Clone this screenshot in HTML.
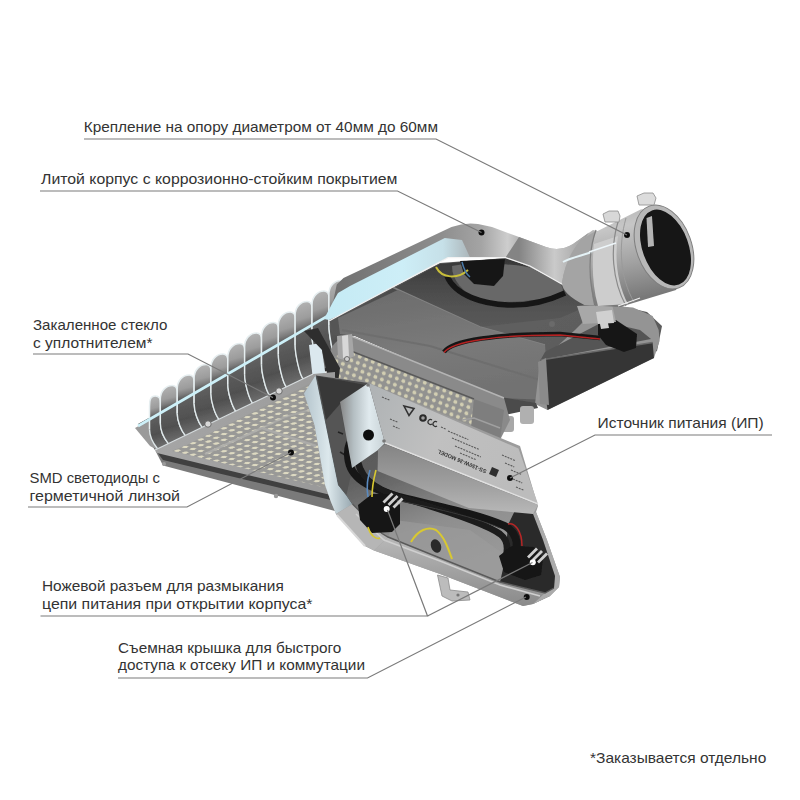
<!DOCTYPE html>
<html><head><meta charset="utf-8">
<style>
html,body{margin:0;padding:0;background:#fff;}
svg{display:block;}
text{font-family:"Liberation Sans",sans-serif;font-size:15px;fill:#333;}
</style></head><body>
<svg width="800" height="800" viewBox="0 0 800 800">
<rect width="800" height="800" fill="#fff"/>
<filter id="soft" x="-5%" y="-5%" width="110%" height="110%"><feGaussianBlur stdDeviation="0.45"/></filter>
<g filter="url(#soft)">
<defs>
<linearGradient id="finG" x1="0" y1="0" x2="0.1" y2="1">
 <stop offset="0" stop-color="#b6b6b6"/><stop offset="0.25" stop-color="#9c9c9c"/><stop offset="0.34" stop-color="#7c7c7c"/><stop offset="0.4" stop-color="#606060"/><stop offset="0.75" stop-color="#505050"/><stop offset="1" stop-color="#6c6c6c"/>
</linearGradient>
<linearGradient id="finLowG" x1="0" y1="0" x2="0.2" y2="1">
 <stop offset="0" stop-color="#7a7a7a"/><stop offset="1" stop-color="#444"/>
</linearGradient>
<linearGradient id="cyanBand" x1="320" y1="0" x2="470" y2="0" gradientUnits="userSpaceOnUse">
 <stop offset="0" stop-color="#c4eaf4"/><stop offset="0.55" stop-color="#cdeef7"/><stop offset="0.82" stop-color="#c6e0e8"/><stop offset="1" stop-color="#acb6ba"/>
</linearGradient>
<linearGradient id="topFace" x1="336" y1="0" x2="600" y2="0" gradientUnits="userSpaceOnUse">
 <stop offset="0" stop-color="#707070"/><stop offset="0.4" stop-color="#8e8e8e"/><stop offset="0.55" stop-color="#a4a4a4"/><stop offset="0.65" stop-color="#cdcdcd"/><stop offset="0.72" stop-color="#a6a6a6"/><stop offset="1" stop-color="#b8b8b8"/>
</linearGradient>
<linearGradient id="interiorG" x1="0" y1="0" x2="1" y2="0.6">
 <stop offset="0" stop-color="#4c4c4c"/><stop offset="0.5" stop-color="#606060"/><stop offset="1" stop-color="#5a5a5a"/>
</linearGradient>
<linearGradient id="lowFaceG" x1="0" y1="0" x2="1" y2="0.5">
 <stop offset="0" stop-color="#5a5a5a"/><stop offset="1" stop-color="#505050"/>
</linearGradient>
<linearGradient id="pipeG" x1="0" y1="0" x2="0.25" y2="1">
 <stop offset="0" stop-color="#b0b0b0"/><stop offset="0.3" stop-color="#c6c6c6"/><stop offset="0.65" stop-color="#a2a2a2"/><stop offset="1" stop-color="#787878"/>
</linearGradient>
<linearGradient id="neckG" x1="519" y1="0" x2="590" y2="0" gradientUnits="userSpaceOnUse">
 <stop offset="0" stop-color="#848484"/><stop offset="0.5" stop-color="#cacaca"/><stop offset="0.75" stop-color="#b2b2b2"/><stop offset="1" stop-color="#9a9a9a"/>
</linearGradient>
<linearGradient id="coverFrame" x1="0" y1="0" x2="1" y2="0">
 <stop offset="0" stop-color="#b4c4cc"/><stop offset="0.5" stop-color="#dce8ec"/><stop offset="1" stop-color="#98a8b0"/>
</linearGradient>
<linearGradient id="coverBot" x1="0" y1="0" x2="0" y2="1">
 <stop offset="0" stop-color="#b8b8b8"/><stop offset="1" stop-color="#8a8a8a"/>
</linearGradient>
<linearGradient id="psuTop" x1="0" y1="0" x2="1" y2="0.3">
 <stop offset="0" stop-color="#aeb2b4"/><stop offset="0.5" stop-color="#c0c0c0"/><stop offset="1" stop-color="#bcbcbc"/>
</linearGradient>
<linearGradient id="psuFront" x1="0" y1="0" x2="0" y2="1">
 <stop offset="0" stop-color="#848484"/><stop offset="0.6" stop-color="#a0a0a0"/><stop offset="1" stop-color="#b8b8b8"/>
</linearGradient>
<linearGradient id="endPlate" x1="0" y1="0" x2="1" y2="0">
 <stop offset="0" stop-color="#868686"/><stop offset="0.3" stop-color="#b4bec2"/><stop offset="0.65" stop-color="#e0eaee"/><stop offset="1" stop-color="#c8d2d6"/>
</linearGradient>
<pattern id="leds" width="8.6" height="8" patternUnits="userSpaceOnUse" patternTransform="matrix(0.9015,-0.4327,0.9679,0.2517,0,0)">
 <rect width="8.6" height="8" fill="#999997"/>
 <circle cx="4.3" cy="4" r="2.3" fill="#dedac2"/>
</pattern>
<linearGradient id="plateG" x1="0" y1="0" x2="1" y2="0.3">
 <stop offset="0" stop-color="#a8a8a8"/><stop offset="1" stop-color="#9a9a9a"/>
</linearGradient>
<pattern id="leds2" width="7" height="6.5" patternUnits="userSpaceOnUse" patternTransform="matrix(0.9285,0.3714,-0.3,0.954,0,0)">
 <rect width="7" height="6.5" fill="#929290"/>
 <circle cx="3.5" cy="3.2" r="2" fill="#d2ceb2"/>
</pattern>
<linearGradient id="coverIn" x1="0" y1="0" x2="0.4" y2="1">
 <stop offset="0" stop-color="#4a4a4a"/><stop offset="0.45" stop-color="#5c5c5c"/><stop offset="0.75" stop-color="#8e8e8e"/><stop offset="1" stop-color="#9a9a9a"/>
</linearGradient>
<linearGradient id="upIntG" x1="0" y1="260" x2="0" y2="330" gradientUnits="userSpaceOnUse">
 <stop offset="0" stop-color="#383838"/><stop offset="0.5" stop-color="#4e4e4e"/><stop offset="1" stop-color="#5a5a5a"/>
</linearGradient>
<linearGradient id="lowWallG" x1="0" y1="0" x2="0.3" y2="1">
 <stop offset="0" stop-color="#6a6a6a"/><stop offset="0.6" stop-color="#7a7a7a"/><stop offset="1" stop-color="#727272"/>
</linearGradient>
</defs>
<g id="heatsink">
<polygon points="138.0,424.0 345.0,309.0 352.0,330.0 340.0,366.0 313.0,376.0 155.0,450.0" fill="#2e2e2e"/>
<polygon points="135.0,428.0 152.0,419.0 157.0,450.0 150.0,446.0" fill="#9a9a9a"/>
<path d="M149.5,429.3 L149.5,410.0 C149.5,401.0 149.5,396.0 155.5,396.0 C158.5,396.0 160.5,398.0 160.5,403.0 L160.5,422.9 C160.5,430.9 164.5,438.5 168.5,443.5 L157.5,448.8 C153.5,443.8 149.5,437.3 149.5,429.3 Z" fill="url(#finG)"/>
<path d="M149.5,429.3 L149.5,410.0 C149.5,401.0 149.5,396.0 155.5,396.0 C158.5,396.0 160.5,398.0 160.5,403.0 L160.5,422.9 C160.5,430.9 164.5,438.5 168.5,443.5" fill="none" stroke="#e6eef0" stroke-width="1.5"/>
<path d="M149.5,429.3 C149.5,437.3 153.5,443.8 157.5,448.8" fill="none" stroke="#dfe8ea" stroke-width="1.4"/>
<path d="M160.3,423.0 L160.3,399.5 C160.3,390.5 166.3,385.5 172.3,385.5 C175.3,385.5 177.3,387.5 177.3,392.5 L177.3,413.2 C177.3,421.2 181.3,430.4 185.3,435.4 L168.3,443.6 C164.3,438.6 160.3,431.0 160.3,423.0 Z" fill="url(#finG)"/>
<path d="M160.3,423.0 L160.3,399.5 C160.3,390.5 166.3,385.5 172.3,385.5 C175.3,385.5 177.3,387.5 177.3,392.5 L177.3,413.2 C177.3,421.2 181.3,430.4 185.3,435.4" fill="none" stroke="#e6eef0" stroke-width="1.5"/>
<path d="M160.3,423.0 C160.3,431.0 164.3,438.6 168.3,443.6" fill="none" stroke="#dfe8ea" stroke-width="1.4"/>
<path d="M177.2,413.3 L177.2,389.0 C177.2,380.0 183.2,375.0 189.2,375.0 C192.2,375.0 194.2,377.0 194.2,382.0 L194.2,403.4 C194.2,411.4 198.2,422.3 202.2,427.3 L185.2,435.5 C181.2,430.5 177.2,421.3 177.2,413.3 Z" fill="url(#finG)"/>
<path d="M177.2,413.3 L177.2,389.0 C177.2,380.0 183.2,375.0 189.2,375.0 C192.2,375.0 194.2,377.0 194.2,382.0 L194.2,403.4 C194.2,411.4 198.2,422.3 202.2,427.3" fill="none" stroke="#e6eef0" stroke-width="1.5"/>
<path d="M177.2,413.3 C177.2,421.3 181.2,430.5 185.2,435.5" fill="none" stroke="#dfe8ea" stroke-width="1.4"/>
<path d="M194.1,403.5 L194.1,378.5 C194.1,369.5 200.1,364.5 206.1,364.5 C209.1,364.5 211.1,366.5 211.1,371.5 L211.1,393.6 C211.1,401.6 215.1,414.3 219.1,419.3 L202.1,427.4 C198.1,422.4 194.1,411.5 194.1,403.5 Z" fill="url(#finG)"/>
<path d="M194.1,403.5 L194.1,378.5 C194.1,369.5 200.1,364.5 206.1,364.5 C209.1,364.5 211.1,366.5 211.1,371.5 L211.1,393.6 C211.1,401.6 215.1,414.3 219.1,419.3" fill="none" stroke="#e6eef0" stroke-width="1.5"/>
<path d="M194.1,403.5 C194.1,411.5 198.1,422.4 202.1,427.4" fill="none" stroke="#dfe8ea" stroke-width="1.4"/>
<path d="M210.9,393.7 L210.9,368.0 C210.9,359.0 216.9,354.0 222.9,354.0 C225.9,354.0 227.9,356.0 227.9,361.0 L227.9,383.9 C227.9,391.9 231.9,406.2 235.9,411.2 L218.9,419.3 C214.9,414.3 210.9,401.7 210.9,393.7 Z" fill="url(#finG)"/>
<path d="M210.9,393.7 L210.9,368.0 C210.9,359.0 216.9,354.0 222.9,354.0 C225.9,354.0 227.9,356.0 227.9,361.0 L227.9,383.9 C227.9,391.9 231.9,406.2 235.9,411.2" fill="none" stroke="#e6eef0" stroke-width="1.5"/>
<path d="M210.9,393.7 C210.9,401.7 214.9,414.3 218.9,419.3" fill="none" stroke="#dfe8ea" stroke-width="1.4"/>
<path d="M227.8,383.9 L227.8,357.5 C227.8,348.5 233.8,343.5 239.8,343.5 C242.8,343.5 244.8,345.5 244.8,350.5 L244.8,374.1 C244.8,382.1 248.8,398.1 252.8,403.1 L235.8,411.2 C231.8,406.2 227.8,391.9 227.8,383.9 Z" fill="url(#finG)"/>
<path d="M227.8,383.9 L227.8,357.5 C227.8,348.5 233.8,343.5 239.8,343.5 C242.8,343.5 244.8,345.5 244.8,350.5 L244.8,374.1 C244.8,382.1 248.8,398.1 252.8,403.1" fill="none" stroke="#e6eef0" stroke-width="1.5"/>
<path d="M227.8,383.9 C227.8,391.9 231.8,406.2 235.8,411.2" fill="none" stroke="#dfe8ea" stroke-width="1.4"/>
<path d="M244.6,374.2 L244.6,347.0 C244.6,338.0 250.6,333.0 256.6,333.0 C259.6,333.0 261.6,335.0 261.6,340.0 L261.6,364.3 C261.6,372.3 265.6,390.0 269.6,395.0 L252.6,403.2 C248.6,398.2 244.6,382.2 244.6,374.2 Z" fill="url(#finG)"/>
<path d="M244.6,374.2 L244.6,347.0 C244.6,338.0 250.6,333.0 256.6,333.0 C259.6,333.0 261.6,335.0 261.6,340.0 L261.6,364.3 C261.6,372.3 265.6,390.0 269.6,395.0" fill="none" stroke="#e6eef0" stroke-width="1.5"/>
<path d="M244.6,374.2 C244.6,382.2 248.6,398.2 252.6,403.2" fill="none" stroke="#dfe8ea" stroke-width="1.4"/>
<path d="M261.5,364.4 L261.5,336.5 C261.5,327.5 267.5,322.5 273.5,322.5 C276.5,322.5 278.5,324.5 278.5,329.5 L278.5,354.5 C278.5,362.5 282.5,381.9 286.5,386.9 L269.5,395.1 C265.5,390.1 261.5,372.4 261.5,364.4 Z" fill="url(#finG)"/>
<path d="M261.5,364.4 L261.5,336.5 C261.5,327.5 267.5,322.5 273.5,322.5 C276.5,322.5 278.5,324.5 278.5,329.5 L278.5,354.5 C278.5,362.5 282.5,381.9 286.5,386.9" fill="none" stroke="#e6eef0" stroke-width="1.5"/>
<path d="M261.5,364.4 C261.5,372.4 265.5,390.1 269.5,395.1" fill="none" stroke="#dfe8ea" stroke-width="1.4"/>
<path d="M278.3,354.6 L278.3,326.0 C278.3,317.0 284.3,312.0 290.3,312.0 C293.3,312.0 295.3,314.0 295.3,319.0 L295.3,344.8 C295.3,352.8 299.3,373.8 303.3,378.8 L286.3,387.0 C282.3,382.0 278.3,362.6 278.3,354.6 Z" fill="url(#finG)"/>
<path d="M278.3,354.6 L278.3,326.0 C278.3,317.0 284.3,312.0 290.3,312.0 C293.3,312.0 295.3,314.0 295.3,319.0 L295.3,344.8 C295.3,352.8 299.3,373.8 303.3,378.8" fill="none" stroke="#e6eef0" stroke-width="1.5"/>
<path d="M278.3,354.6 C278.3,362.6 282.3,382.0 286.3,387.0" fill="none" stroke="#dfe8ea" stroke-width="1.4"/>
<path d="M295.1,344.9 L295.1,315.5 C295.1,306.5 301.1,301.5 307.1,301.5 C310.1,301.5 312.1,303.5 312.1,308.5 L312.1,335.0 C312.1,343.0 316.1,365.7 320.1,370.7 L303.1,378.9 C299.1,373.9 295.1,352.9 295.1,344.9 Z" fill="url(#finG)"/>
<path d="M295.1,344.9 L295.1,315.5 C295.1,306.5 301.1,301.5 307.1,301.5 C310.1,301.5 312.1,303.5 312.1,308.5 L312.1,335.0 C312.1,343.0 316.1,365.7 320.1,370.7" fill="none" stroke="#e6eef0" stroke-width="1.5"/>
<path d="M295.1,344.9 C295.1,352.9 299.1,373.9 303.1,378.9" fill="none" stroke="#dfe8ea" stroke-width="1.4"/>
<path d="M312.0,335.1 L312.0,305.0 C312.0,296.0 318.0,291.0 324.0,291.0 C327.0,291.0 329.0,293.0 329.0,298.0 L329.0,325.2 C329.0,333.2 333.0,357.6 337.0,362.6 L320.0,370.8 C316.0,365.8 312.0,343.1 312.0,335.1 Z" fill="url(#finG)"/>
<path d="M312.0,335.1 L312.0,305.0 C312.0,296.0 318.0,291.0 324.0,291.0 C327.0,291.0 329.0,293.0 329.0,298.0 L329.0,325.2 C329.0,333.2 333.0,357.6 337.0,362.6" fill="none" stroke="#e6eef0" stroke-width="1.5"/>
<path d="M312.0,335.1 C312.0,343.1 316.0,365.8 320.0,370.8" fill="none" stroke="#dfe8ea" stroke-width="1.4"/>
<path d="M328.9,325.3 L328.9,294.5 C328.9,285.5 334.9,280.5 340.9,280.5 C343.9,280.5 345.9,282.5 345.9,287.5 L345.9,315.4 C345.9,323.4 349.9,349.6 353.9,354.6 L336.9,362.7 C332.9,357.7 328.9,333.3 328.9,325.3 Z" fill="url(#finG)"/>
<path d="M328.9,325.3 L328.9,294.5 C328.9,285.5 334.9,280.5 340.9,280.5 C343.9,280.5 345.9,282.5 345.9,287.5 L345.9,315.4 C345.9,323.4 349.9,349.6 353.9,354.6" fill="none" stroke="#e6eef0" stroke-width="1.5"/>
<path d="M328.9,325.3 C328.9,333.3 332.9,357.7 336.9,362.7" fill="none" stroke="#dfe8ea" stroke-width="1.4"/>
<polyline points="138.0,426.0 345.0,305.9" fill="none" stroke="#cdf0f8" stroke-width="2.8"/>
</g>
<g id="housing">
<polygon points="329.0,320.0 440.0,263.0 506.0,258.0 559.0,277.0 575.0,292.0 603.0,302.0 647.0,312.0 662.0,326.0 657.0,351.0 549.0,400.0 535.0,404.0 500.0,398.0 355.0,336.0 335.0,335.0" fill="url(#interiorG)"/>
<polygon points="341.0,316.0 440.0,264.0 506.0,258.0 559.0,277.0 575.0,295.0 590.0,305.0 560.0,318.0 480.0,327.0 398.0,290.0 345.0,314.0" fill="url(#upIntG)"/>
<polyline points="390.0,286.0 480.0,327.0 545.0,345.0" fill="none" stroke="#828282" stroke-width="1.6"/>
<polygon points="338.0,318.0 398.0,290.0 480.0,327.0 545.0,345.0 549.0,400.0 500.0,398.0 355.0,336.0 340.0,334.0" fill="url(#lowWallG)"/>
<polyline points="342.0,330.0 430.0,346.0 540.0,380.0" fill="none" stroke="#6e6e6e" stroke-width="2"/>
<path d="M452,266 C470,262 520,262 545,272 C560,280 565,288 562,293 C540,302 500,304 480,300 C462,292 452,280 452,266 Z" fill="#686868"/>
<path d="M447,276 C455,296 484,304 508,305 C532,306 550,300 565,293" fill="none" stroke="#171717" stroke-width="5.5"/>
<polygon points="460.0,261.0 505.0,259.0 503.0,276.0 494.0,286.0 474.0,284.0 464.0,274.0" fill="#191919"/>
<path d="M436,267 C442,279 458,279 468,270" fill="none" stroke="#c8be3a" stroke-width="2"/>
<path d="M462,262 C464,270 466,274 470,277" fill="none" stroke="#4a7aa8" stroke-width="1.5"/>
<polygon points="600.0,305.0 633.0,307.5 652.6,316.0 658.7,330.0 659.6,341.0 654.0,358.0 547.5,410.0 535.0,404.0 540.0,362.0 575.0,330.0" fill="#949494"/>
<polygon points="545.0,352.0 603.5,321.5 640.0,330.0 651.0,339.0 540.5,360.0" fill="#555"/>
<polygon points="540.5,360.0 652.6,342.5 654.0,358.0 547.5,410.0" fill="#363636"/>
<polyline points="540.5,360.0 652.6,342.5" fill="none" stroke="#6a6a6a" stroke-width="1.5"/>
<polygon points="538.0,362.0 546.0,358.0 549.0,405.0 540.0,404.0" fill="#8a8a8a"/>
<path d="M444,352 C452,340 498,334 560,334 L600,338" fill="none" stroke="#181818" stroke-width="4.5"/>
<path d="M444,352.5 C452,341 498,335 560,335 L600,339" fill="none" stroke="#b42222" stroke-width="1.4"/>
<polygon points="598.0,322.0 616.0,320.0 637.0,334.0 636.0,348.0 624.0,352.0 606.0,345.0 598.0,335.0" fill="#161616"/>
<polygon points="599.0,319.0 607.0,318.0 609.0,328.0 601.0,329.0" fill="#cfcfcf"/>
<polygon points="495.0,396.0 536.0,403.0 538.0,408.0 499.5,416.0 488.0,412.0" fill="#4c4c4c"/>
<rect x="501" y="416" width="13" height="16" rx="3" fill="#a8a8a8"/>
<rect x="520" y="406" width="14" height="18" rx="3" fill="#b0b0b0"/>
<circle cx="552" cy="324" r="3" fill="#6a6a6a"/>
<path d="M336.75,284.4 L343.5,278 L451.5,227 Q465,222 478,224 L492,227 L519,237 L546,247 Q560,252 573,244 L593,230 L600,232 L590,270 L574,292 L563.5,285 C550,277 530,266 505.5,257.4 L448,257.4 L340,315 L329,321 Z" fill="url(#topFace)"/>
<path d="M519,237 L546,247 Q560,252 573,244 L589,232.5 L580,246 L563.5,285 C550,277 530,266 505.5,257.4 Z" fill="url(#neckG)"/>
<polygon points="324.0,319.0 334.0,300.0 338.0,293.0 350.0,286.0 444.8,238.0 462.0,240.0 470.0,257.4 448.0,257.4 340.0,315.0 329.0,320.0" fill="url(#cyanBand)"/>
<polyline points="329.0,321.0 340.0,315.0 448.0,257.6 505.5,257.6 530.0,266.0 563.5,285.0" fill="none" stroke="#f2f2f2" stroke-width="1.3"/>
</g>
<g id="pipe">
<polygon points="577.0,306.0 612.0,304.0 616.0,322.0 583.0,324.0" fill="#a8a8a8"/>
<polygon points="596.0,312.0 612.0,310.0 614.0,323.0 598.0,324.0" fill="#d0d0d0"/>
<path d="M562,283 C564,268 570,252 580.6,239.4 L640.6,209.4 L662,206 L690,262 L676,290 L620,307 L584.4,305 Z" fill="url(#pipeG)"/>
<path d="M580.6,239.4 L596,231 C590,250 588,280 594,305 L584.4,305 C570,298 562,290 562,283 C564,268 570,252 580.6,239.4 Z" fill="#a4a4a4"/>
<path d="M563,262 C570,258 580,256 592,252" fill="none" stroke="#e4f2f6" stroke-width="2"/>
<path d="M594,244 L618,236 C614,260 618,285 628,304 L598,306 C592,285 592,262 594,244 Z" fill="#cdcdcd"/>
<path d="M596,230 C588,252 588,282 596,306" fill="none" stroke="#7e7e7e" stroke-width="1.2"/>
<path d="M618,222 C610,248 612,280 626,306" fill="none" stroke="#8a8a8a" stroke-width="1.2"/>
<path d="M626,218 C618,246 620,278 634,302" fill="none" stroke="#9a9a9a" stroke-width="1"/>
<line x1="589" y1="252" x2="616" y2="243" stroke="#eef6fa" stroke-width="1.5"/>
<line x1="618" y1="306" x2="640" y2="298" stroke="#f0f0f0" stroke-width="1.2"/>
<ellipse cx="664" cy="247" rx="27.5" ry="43.5" transform="rotate(-20 664 247)" fill="#b8b8b8" stroke="#7e7e7e" stroke-width="1"/>
<ellipse cx="665.5" cy="247.5" rx="23" ry="39.5" transform="rotate(-20 665.5 247.5)" fill="#141414"/>
<polygon points="646.5,218.0 652.0,216.0 654.0,246.0 648.0,247.0" fill="#b4b4b4"/>
<polygon points="603.0,214.0 609.0,211.0 618.0,211.0 620.0,216.0 619.0,222.0 605.0,222.0" fill="#d8d8d8" stroke="#8c8c8c" stroke-width="0.8"/>
<polygon points="637.0,196.0 644.0,193.0 653.0,193.0 656.0,198.0 654.0,205.0 639.0,205.0" fill="#dcdcdc" stroke="#8c8c8c" stroke-width="0.8"/>
</g>
<g id="midled">
<path d="M330,352 Q334,338 351,336 L504,398 L510,420 L500,440 L470,445 L330,400 Z" fill="#8a8a8a"/>
<polyline points="340.0,337.0 351.0,336.0 504.0,398.0" fill="none" stroke="#b4b4b4" stroke-width="1.5"/>
<polygon points="333.0,357.0 351.0,351.0 474.0,399.0 470.0,440.0 378.0,405.0 333.0,395.0" fill="url(#leds2)"/>
<polyline points="351.0,351.0 474.0,399.0" fill="none" stroke="#5a5a5a" stroke-width="1.5"/>
<polygon points="474.0,399.0 504.0,410.0 500.0,440.0 470.0,440.0" fill="#7e7e7e"/>
<polyline points="462.0,420.0 474.0,418.0 500.0,428.0" fill="none" stroke="#a0a0a0" stroke-width="1.5"/>
<path d="M337,336 L352,334 L354,356 Q346,362 338,358 Z" fill="#a6a6a6"/>
<polygon points="342.0,336.0 348.0,335.0 349.0,357.0 343.0,358.0" fill="#d8d8d8"/>
<circle cx="347" cy="359" r="2.5" fill="#cfcfcf" stroke="#555" stroke-width="0.8"/>
<polygon points="309.0,345.0 321.0,343.0 326.0,378.0 313.0,380.0" fill="#dbe8ee"/>
<polygon points="304.0,331.0 318.0,328.0 340.0,368.0 338.0,383.0 329.0,383.0 322.0,350.0" fill="#2e2e2e"/>
</g>
<g id="leftled">
<polygon points="155.0,450.0 335.0,493.0 335.0,511.0 163.0,465.5" fill="#7a7a7a"/>
<polygon points="157.0,452.0 335.0,494.0 335.0,501.0 163.0,460.0" fill="#404040"/>
<polygon points="155.0,450.0 313.0,374.0 335.0,372.0 335.0,496.0 157.0,453.0" fill="url(#plateG)"/>
<polyline points="155.0,450.0 313.0,374.0" fill="none" stroke="#d6dcde" stroke-width="1.2"/>
<polygon points="187.7,444.5 309.0,384.0 335.0,378.0 335.0,490.0 172.0,451.0" fill="url(#leds)"/>
<polyline points="205.0,454.0 262.0,428.0 316.0,446.0" fill="none" stroke="#acacaa" stroke-width="2.4" opacity="0.9"/>
<polyline points="262.0,428.0 285.0,417.0 310.0,410.0" fill="none" stroke="#acacaa" stroke-width="2" opacity="0.7"/>
<circle cx="208" cy="424" r="3.2" fill="#d8d8d8" stroke="#555" stroke-width="0.8"/>
<circle cx="279" cy="391" r="3.2" fill="#d8d8d8" stroke="#555" stroke-width="0.8"/>
<circle cx="164" cy="464" r="2" fill="#9a9a9a"/>
<circle cx="276" cy="496" r="2.2" fill="#9a9a9a"/>
</g>
<g id="cover">
<polygon points="316.0,374.8 304.0,393.5 314.5,425.0 325.0,485.0 331.0,502.0 336.0,514.0 364.0,545.5 374.0,550.6 440.0,574.0 523.0,606.0 533.0,604.0 550.0,596.0 559.0,587.0 560.0,577.0 547.0,540.0 536.0,512.0 538.0,506.0 520.0,446.0 368.5,383.0" fill="#9c9c9c"/>
<polygon points="316.0,374.8 304.0,393.5 314.5,425.0 325.0,485.0 331.0,502.0 336.0,514.0 352.5,504.0 346.4,495.0 338.5,485.0 316.0,375.5" fill="url(#coverFrame)"/>
<polyline points="316.0,375.5 338.5,485.0 346.4,495.0 352.5,504.0" fill="none" stroke="#5a6468" stroke-width="1"/>
<polygon points="336.0,514.0 364.0,545.5 374.0,550.6 388.0,537.0 382.0,533.5 352.5,504.0" fill="#b6b6b6"/>
<polyline points="337.0,515.0 365.0,546.0" fill="none" stroke="#d8d8d8" stroke-width="2"/>
<polygon points="374.0,550.6 440.0,574.0 523.0,606.0 533.0,604.0 550.0,596.0 545.0,593.0 500.0,582.0 440.0,558.0 388.0,537.0" fill="url(#coverBot)"/>
<polygon points="533.0,604.0 550.0,596.0 559.0,587.0 560.0,577.0 547.0,540.0 536.0,512.0 533.0,514.0 543.0,540.0 555.0,576.0 554.0,588.0 545.0,593.0" fill="#ababab"/>
<polygon points="316.0,375.5 338.5,485.0 346.4,495.0 352.5,504.0 382.0,533.5 388.0,537.0 440.0,558.0 500.0,582.0 545.0,593.0 554.0,588.0 555.0,576.0 543.0,540.0 533.0,514.0 520.0,480.0 368.5,383.0" fill="url(#coverIn)"/>
<polygon points="317.0,377.0 366.0,385.0 340.0,404.0 352.0,470.0 346.4,495.0 338.5,485.0" fill="#545454"/>
<polygon points="317.0,376.0 366.0,385.0 340.0,404.0 326.0,420.0" fill="#393939"/>
<line x1="338" y1="432" x2="343" y2="434" stroke="#222" stroke-width="1.5"/>
<line x1="340" y1="452" x2="345" y2="455" stroke="#222" stroke-width="1.5"/>
<polygon points="395.0,520.0 470.0,530.0 505.0,555.0 500.0,582.0 440.0,558.0 388.0,537.0" fill="#9c9c9c" opacity="0.6"/>
<polygon points="520.0,500.0 533.0,514.0 543.0,540.0 555.0,576.0 554.0,588.0 545.0,593.0 500.0,582.0 505.0,560.0 508.0,525.0" fill="#2a2a2a"/>
<path d="M368,435 C356,432 346,440 348,458 C350,478 368,488 400,497 C440,507 478,514 505,526 C515,532 518,540 516,550" fill="none" stroke="#161616" stroke-width="7.5"/>
<path d="M358,462 C362,482 380,492 410,500 C450,512 486,524 500,534 C508,540 508,548 506,556" fill="none" stroke="#1a1a1a" stroke-width="6.5"/>
<path d="M380,497 C420,505 470,515 500,528" fill="none" stroke="#3a3a3a" stroke-width="1"/>
<path d="M508,524 C514,522 522,530 522,546" fill="none" stroke="#b82828" stroke-width="1.5"/>
<polyline points="352.5,504.0 382.0,533.5 388.0,537.0 440.0,558.0 500.0,582.0 545.0,593.0 554.0,588.0" fill="none" stroke="#5a5a5a" stroke-width="1.4"/>
<polyline points="356.0,514.0 384.0,540.0 440.0,561.0 500.0,585.0 540.0,596.0" fill="none" stroke="#cfcfcf" stroke-width="1.6"/>
<polygon points="340.0,402.0 368.5,383.0 385.0,443.0 378.0,450.0 352.0,468.0" fill="url(#endPlate)"/>
<polygon points="368.5,383.0 518.5,448.5 538.0,504.0 385.0,443.0" fill="url(#psuTop)"/>
<polyline points="385.0,443.0 538.0,504.0" fill="none" stroke="#e0e0e0" stroke-width="1.5"/>
<polygon points="385.0,444.0 538.0,505.0 533.0,514.0 468.8,508.0 377.6,471.0 378.0,450.0" fill="url(#psuFront)"/>
<g>
<polygon points="404,406 414,408.5 409,415.5" fill="none" stroke="#333" stroke-width="1.6"/>
<circle cx="423" cy="418" r="3.8" fill="#2a2a2a"/><circle cx="423" cy="418" r="1.8" fill="#a0a0a0"/>
<path d="M432,420 a2.5,2.5 0 1,0 0,4 M437,422 a2.5,2.5 0 1,0 0,4" fill="none" stroke="#333" stroke-width="1.2"/>
<line x1="382.0" y1="397.0" x2="389.4" y2="400.1" stroke="#5a5a5a" stroke-width="1.1" stroke-dasharray="2 1"/>
<line x1="390.0" y1="419.0" x2="398.3" y2="422.5" stroke="#5a5a5a" stroke-width="1.1" stroke-dasharray="2 1"/>
<line x1="393.0" y1="426.0" x2="399.4" y2="428.7" stroke="#5a5a5a" stroke-width="1.1" stroke-dasharray="2 1"/>
<line x1="441.0" y1="427.0" x2="446.5" y2="429.3" stroke="#5a5a5a" stroke-width="1.1" stroke-dasharray="2 1"/>
<line x1="448.0" y1="431.0" x2="468.3" y2="439.6" stroke="#5a5a5a" stroke-width="1.1" stroke-dasharray="2 1"/>
<line x1="452.0" y1="438.0" x2="479.6" y2="449.7" stroke="#5a5a5a" stroke-width="1.1" stroke-dasharray="2 1"/>
<line x1="455.0" y1="446.0" x2="480.8" y2="456.9" stroke="#5a5a5a" stroke-width="1.1" stroke-dasharray="2 1"/>
<line x1="460.0" y1="453.0" x2="476.6" y2="460.0" stroke="#5a5a5a" stroke-width="1.1" stroke-dasharray="2 1"/>
<line x1="502.0" y1="455.0" x2="514.9" y2="460.5" stroke="#5a5a5a" stroke-width="1.1" stroke-dasharray="2 1"/>
<line x1="505.0" y1="463.0" x2="514.2" y2="466.9" stroke="#5a5a5a" stroke-width="1.1" stroke-dasharray="2 1"/>
<line x1="511.0" y1="470.0" x2="522.0" y2="474.7" stroke="#5a5a5a" stroke-width="1.1" stroke-dasharray="2 1"/>
<line x1="513.0" y1="479.0" x2="522.2" y2="482.9" stroke="#5a5a5a" stroke-width="1.1" stroke-dasharray="2 1"/>
<line x1="516.0" y1="487.0" x2="523.4" y2="490.1" stroke="#5a5a5a" stroke-width="1.1" stroke-dasharray="2 1"/>
<text x="0" y="0" transform="translate(487,470) rotate(203)" style="font-size:5.5px;font-weight:bold;fill:#333">SS-150W-36 MODEL</text>
<polygon points="492,467 499,470 496,477 489,474" fill="#2e2e2e"/>
</g>
<circle cx="368" cy="385" r="1.8" fill="#777"/>
<circle cx="384" cy="441" r="1.8" fill="#777"/>
<circle cx="368.5" cy="435" r="5.5" fill="#101010"/>
<polygon points="358.0,505.0 372.0,494.0 392.0,494.0 400.0,505.0 400.0,524.0 392.0,532.0 372.0,533.0 360.0,520.0" fill="#151515"/>
<polygon points="382.5,501.5 384.5,503.5 393.5,494.5 391.5,492.5" fill="#cfcfcf"/>
<polygon points="387.5,504.0 389.5,506.0 398.5,497.0 396.5,495.0" fill="#cfcfcf"/>
<polygon points="392.5,506.5 394.5,508.5 403.5,499.5 401.5,497.5" fill="#cfcfcf"/>
<polygon points="499.0,556.0 512.0,546.0 534.0,547.0 543.0,558.0 541.0,575.0 525.0,580.0 504.0,572.0" fill="#141414"/>
<polygon points="527.0,556.5 529.0,558.5 538.0,549.5 536.0,547.5" fill="#cfcfcf"/>
<polygon points="532.0,559.0 534.0,561.0 543.0,552.0 541.0,550.0" fill="#cfcfcf"/>
<polygon points="537.0,561.5 539.0,563.5 548.0,554.5 546.0,552.5" fill="#cfcfcf"/>
<path d="M368,497 C366,485 368,478 370,470" fill="none" stroke="#5a8ac0" stroke-width="1.6"/>
<path d="M372,497 C372,485 374,478 376,470" fill="none" stroke="#d8c830" stroke-width="1.6"/>
<path d="M368,527 C370,535 376,540 380,538" fill="none" stroke="#d8c830" stroke-width="1.6"/>
<path d="M411,542 C418,530 428,526 436,530 C444,536 448,548 452,559" fill="none" stroke="#d8c830" stroke-width="2"/>
<ellipse cx="436" cy="546" rx="5" ry="7" fill="#2a2a2a" transform="rotate(-20 436 546)"/>
<polygon points="437.5,575.0 448.0,578.0 450.0,590.0 468.0,592.0 470.0,600.0 452.0,601.0 442.0,596.0" fill="#bcbcbc" stroke="#8a8a8a" stroke-width="0.8"/>
<circle cx="458" cy="595" r="1.6" fill="#777"/>
</g>
<g id="dots">
<circle cx="627" cy="235" r="3" fill="#111"/>
<circle cx="481.5" cy="232.5" r="3" fill="#111"/>
<circle cx="273" cy="397.6" r="3" fill="#111"/>
<circle cx="291" cy="452.5" r="3" fill="#111"/>
<circle cx="510" cy="478" r="3" fill="#111"/>
<circle cx="526.7" cy="597" r="3" fill="#111"/>
<circle cx="386.7" cy="509" r="3" fill="#fff"/>
<circle cx="532.8" cy="562.3" r="3" fill="#fff"/>
</g>
</g>
<g id="callouts" fill="none" stroke="#7a7a7a" stroke-width="1.2">
<polyline points="84,139 436,139 627,235"/>
<polyline points="40,191 397.5,191 481.5,232.5"/>
<polyline points="33,354 188,354 273,397.6"/>
<polyline points="772,435 595,435 510,478"/>
<polyline points="28,507 187,507 291,452.5"/>
<polyline points="40.5,616 427.5,616 387.5,510"/>
<polyline points="427.5,616 532.5,562.5"/>
<polyline points="118,678 367.5,678 526,597"/>
</g>
<g id="labels">
<text x="83.75" y="132" textLength="354.25" lengthAdjust="spacingAndGlyphs">Крепление на опору диаметром от 40мм до 60мм</text>
<text x="41" y="183.75" textLength="356.5" lengthAdjust="spacingAndGlyphs">Литой корпус с коррозионно-стойким покрытием</text>
<text x="33" y="329.5" textLength="134.5" lengthAdjust="spacingAndGlyphs">Закаленное стекло</text>
<text x="33" y="347.5" textLength="119.5" lengthAdjust="spacingAndGlyphs">с уплотнителем*</text>
<text x="597.5" y="428.25" textLength="166.25" lengthAdjust="spacingAndGlyphs">Источник питания (ИП)</text>
<text x="29.5" y="483.25" textLength="130.5" lengthAdjust="spacingAndGlyphs">SMD светодиоды с</text>
<text x="29.5" y="501.25" textLength="150.5" lengthAdjust="spacingAndGlyphs">герметичной линзой</text>
<text x="42" y="590.75" textLength="241.75" lengthAdjust="spacingAndGlyphs">Ножевой разъем для размыкания</text>
<text x="42" y="608.75" textLength="270.5" lengthAdjust="spacingAndGlyphs">цепи питания при открытии корпуса*</text>
<text x="118" y="652.5" textLength="223.25" lengthAdjust="spacingAndGlyphs">Съемная крышка для быстрого</text>
<text x="118" y="670" textLength="247" lengthAdjust="spacingAndGlyphs">доступа к отсеку ИП и коммутации</text>
<text x="590" y="763.25" textLength="176.25" lengthAdjust="spacingAndGlyphs">*Заказывается отдельно</text>
</g>
</svg>
</body></html>
